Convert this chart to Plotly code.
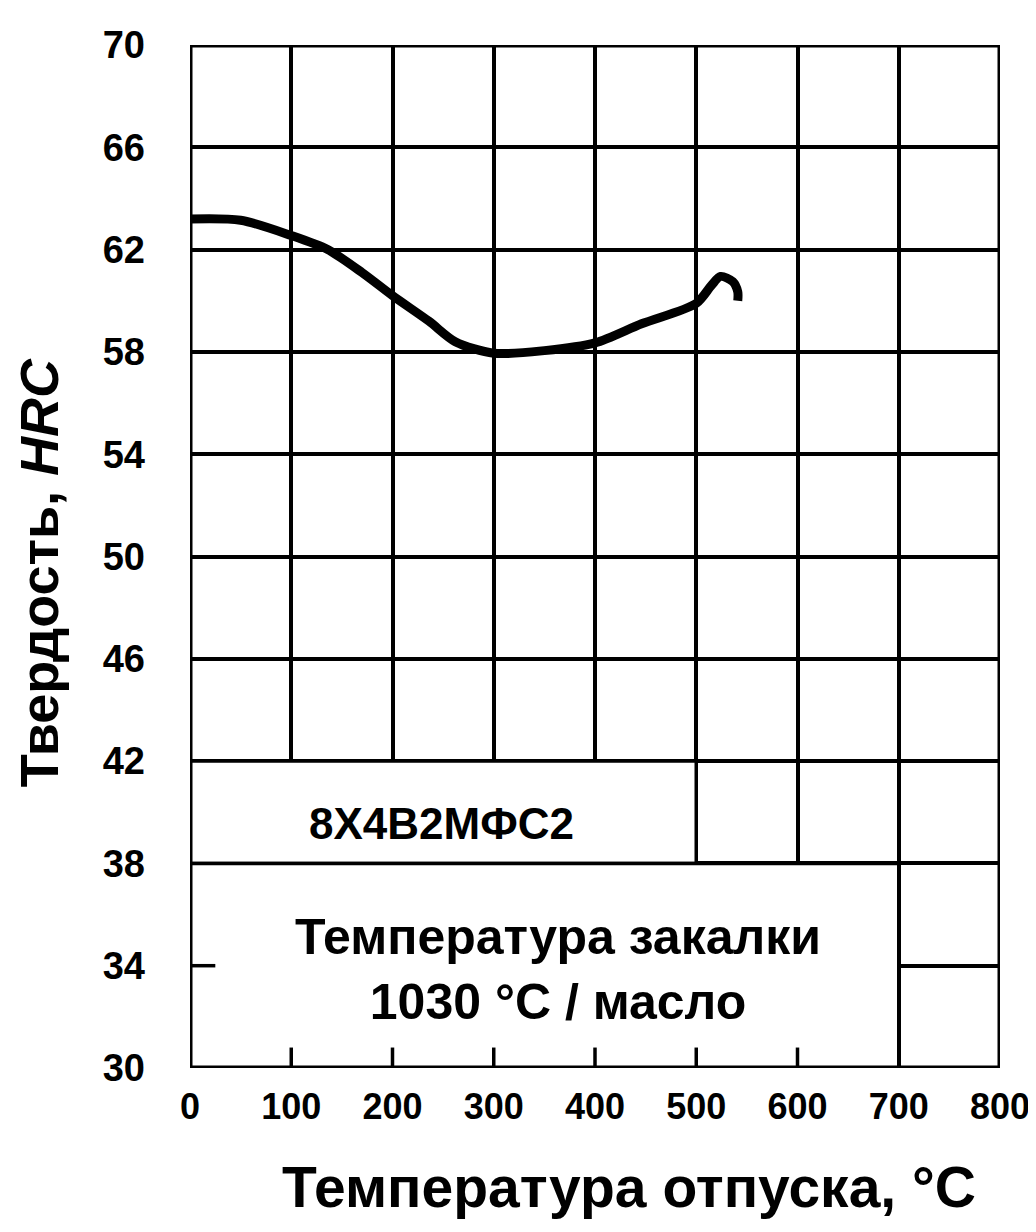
import plotly.graph_objects as go

# Data
temp = [0, 50, 100, 136, 170, 200, 236, 262, 300, 350, 400, 446, 500, 515, 524, 536, 541, 541]
hrc = [63.2, 63.15, 62.55, 62.0, 61.1, 60.2, 59.2, 58.4, 57.95, 58.05, 58.35, 59.1, 59.9, 60.6, 60.95, 60.75, 60.35, 60.0]

x_ticks = [0, 100, 200, 300, 400, 500, 600, 700, 800]
y_ticks = [30, 34, 38, 42, 46, 50, 54, 58, 62, 66, 70]

steel = "8Х4В2МФС2"
note_lines = ["Температура закалки", "1030 °С / масло"]
x_title = "Температура отпуска, °С"
y_title = "Твердость, <i>HRC</i>"

FONT = "Liberation Sans"

fig = go.Figure()
fig.add_trace(go.Scatter(
    x=temp, y=hrc, mode="lines",
    line=dict(color="black", width=9, shape="spline", smoothing=0.8),
    showlegend=False, hoverinfo="skip",
))

# white label boxes with black borders
fig.add_shape(type="rect", x0=0, x1=500, y0=38, y1=42, xref="x", yref="y",
              fillcolor="white", line=dict(color="black", width=3.5), layer="above")
fig.add_shape(type="rect", x0=0, x1=700, y0=30, y1=38, xref="x", yref="y",
              fillcolor="white", line=dict(color="black", width=3.5), layer="above")
# small stub of 34 grid line at left
fig.add_shape(type="line", x0=0, x1=25, y0=34, y1=34, xref="x", yref="y",
              line=dict(color="black", width=3.5), layer="above")
# small tick stubs at bottom
for xv in x_ticks[1:7]:
    fig.add_shape(type="line", x0=xv, x1=xv, y0=30, y1=30.8, xref="x", yref="y",
                  line=dict(color="black", width=3.5), layer="above")
# outer frame
fig.add_shape(type="rect", x0=0, x1=800, y0=30, y1=70, xref="x", yref="y",
              fillcolor="rgba(0,0,0,0)", line=dict(color="black", width=5), layer="above")

fig.add_annotation(x=248, y=39.55, xref="x", yref="y", text=steel, showarrow=False,
                   font=dict(family=FONT, size=44, color="black", weight="bold"))
fig.add_annotation(x=363, y=33.85, xref="x", yref="y", text="<br>".join(note_lines),
                   showarrow=False, font=dict(family=FONT, size=50, color="black", weight="bold"),
                   align="center")

# axis titles (placed as in the reference)
fig.add_annotation(x=0.542, y=-0.083, xref="paper", yref="paper", text=x_title,
                   showarrow=False, xanchor="center", yanchor="top",
                   font=dict(family=FONT, size=57, color="black", weight="bold"))
fig.add_annotation(x=-0.186, y=0.484, xref="paper", yref="paper", text=y_title,
                   showarrow=False, xanchor="center", yanchor="middle", textangle=-90,
                   font=dict(family=FONT, size=54, color="black", weight="bold"))

fig.update_xaxes(
    range=[0, 800], tickvals=x_ticks, ticktext=[str(v) for v in x_ticks],
    showgrid=True, gridcolor="black", gridwidth=3.5, zeroline=False,
    showline=False, ticks="", ticklabelstandoff=14, automargin=False,
    tickfont=dict(family=FONT, size=36, color="black", weight="bold"),
)
fig.update_yaxes(
    range=[30, 70], tickvals=y_ticks, ticktext=[str(v) for v in y_ticks],
    showgrid=True, gridcolor="black", gridwidth=3.5, zeroline=False,
    showline=False, ticks="", ticklabelstandoff=44, automargin=False,
    tickfont=dict(family=FONT, size=38, color="black", weight="bold"),
)

fig.update_layout(
    width=1036, height=1232,
    margin=dict(l=182, r=44, t=37, b=172),
    plot_bgcolor="white", paper_bgcolor="white",
    showlegend=False,
)

fig.write_html("out.html")
